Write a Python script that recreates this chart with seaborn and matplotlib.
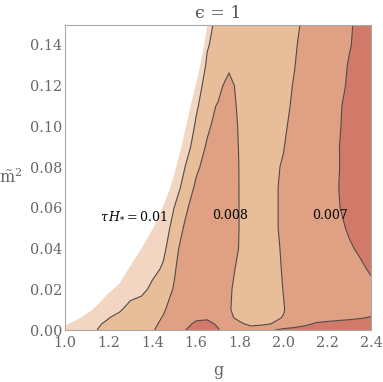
import numpy as np
import matplotlib
matplotlib.use("Agg")
import matplotlib.pyplot as plt
from matplotlib.ticker import MultipleLocator, FormatStrFormatter
import seaborn as sns

# grid
g_vals = [1.00, 1.05, 1.10, 1.15, 1.20, 1.25, 1.30, 1.35, 1.40, 1.45,
          1.50, 1.55, 1.60, 1.65, 1.70, 1.75, 1.80, 1.85, 1.90, 1.95,
          2.00, 2.05, 2.10, 2.15, 2.20, 2.25, 2.30, 2.35, 2.40]
m2_vals = [0.000, 0.003, 0.006, 0.01, 0.02, 0.03, 0.04, 0.05, 0.06,
           0.07, 0.08, 0.09, 0.10, 0.11, 0.12, 0.13, 0.14, 0.15]

# tau*H_* in units of 1e-3, one row per m2 value
tau_rows = [
    [10.9, 10.6, 10.3, 9.98, 9.75, 9.55, 9.4, 9.25, 9.05, 8.8, 8.4, 8.01, 7.8, 7.8, 7.97,
     8.2, 8.4, 8.6, 8.6, 8.05, 7.85, 7.8, 7.75, 7.7, 7.7, 7.7, 7.7, 7.7, 7.7],
    [11.1, 10.7, 10.4, 10.1, 9.82, 9.6, 9.45, 9.3, 9.1, 8.9, 8.5, 8.15, 7.9, 7.9, 8.05,
     8.4, 8.85, 9.2, 9.1, 8.98, 8.5, 8.3, 8.1, 7.93, 7.9, 7.88, 7.87, 7.86, 7.85],
    [11.8, 11.2, 10.7, 10.35, 10.03, 9.65, 9.5, 9.35, 9.15, 8.97, 8.6, 8.2, 8.1, 8.05, 8.2,
     8.8, 9.25, 9.3, 9.3, 9.1, 8.975, 8.6, 8.4, 8.25, 8.15, 8.1, 8.06, 8.02, 7.98],
    [12.45, 11.85, 11.25, 10.75, 10.5, 10.15, 9.52, 9.4, 9.25, 9.05, 8.8, 8.3, 8.15, 8.1, 8.3,
     8.9, 9.46, 9.5, 9.45, 9.3, 9.03, 8.73, 8.5, 8.35, 8.25, 8.2, 8.15, 8.12, 8.1],
    [13.5, 12.9, 12.3, 11.7, 11.1, 10.85, 10.6, 10.3, 9.75, 9.4, 8.93, 8.5, 8.35, 8.35, 8.5,
     8.85, 9.39, 9.4, 9.4, 9.25, 8.98, 8.7, 8.5, 8.4, 8.3, 8.25, 8.2, 8.15, 8.1],
    [14.35, 13.75, 13.15, 12.55, 11.95, 11.35, 10.9, 10.6, 10.3, 9.87, 9.1, 8.4, 8.3, 8.3, 8.35,
     8.7, 9.24, 9.3, 9.3, 9.15, 8.96, 8.7, 8.5, 8.4, 8.3, 8.2, 8.15, 8.07, 7.95],
    [15.1, 14.5, 13.9, 13.3, 12.7, 12.1, 11.5, 10.99, 10.6, 10.2, 9.37, 8.45, 8.3, 8.25, 8.3,
     8.45, 9.075, 9.2, 9.2, 9.1, 8.95, 8.7, 8.5, 8.4, 8.3, 8.2, 8.05, 7.94, 7.75],
    [15.82, 15.22, 14.62, 14.02, 13.42, 12.82, 12.22, 11.62, 11.02, 10.5, 9.64, 8.85, 8.4, 8.35, 8.35,
     8.4, 9.05, 9.2, 9.2, 9.05, 8.95, 8.7, 8.5, 8.35, 8.2, 8.1, 7.95, 7.75, 7.6],
    [16.7, 16.1, 15.5, 14.9, 14.3, 13.7, 13.1, 12.5, 11.9, 10.9, 9.98, 9.2, 8.45, 8.4, 8.4,
     8.4, 9.05, 9.25, 9.2, 9.05, 8.95, 8.7, 8.5, 8.35, 8.15, 8.03, 7.85, 7.7, 7.55],
    [17.05, 16.45, 15.85, 15.25, 14.65, 14.05, 13.45, 12.85, 12.25, 11.65, 10.6, 9.53, 8.85, 8.6, 8.45,
     8.45, 9.05, 9.3, 9.25, 9.05, 8.95, 8.7, 8.5, 8.35, 8.15, 8.01, 7.8, 7.65, 7.55],
    [17.2, 16.6, 16.0, 15.4, 14.8, 14.2, 13.6, 13.0, 12.4, 11.8, 11.2, 9.98, 9.15, 8.7, 8.5,
     8.5, 9.05, 9.3, 9.3, 9.1, 8.95, 8.7, 8.55, 8.4, 8.2, 8.03, 7.8, 7.65, 7.55],
    [17.9, 17.3, 16.7, 16.1, 15.5, 14.9, 14.3, 13.7, 13.1, 12.5, 11.9, 10.5, 9.5, 8.9, 8.6,
     8.55, 9.07, 9.35, 9.35, 9.2, 9.02, 8.75, 8.6, 8.45, 8.25, 8.02, 7.85, 7.7, 7.6],
    [17.68, 17.08, 16.48, 15.88, 15.28, 14.68, 14.08, 13.48, 12.88, 12.28, 11.68, 11.08, 9.8, 9.15, 8.7,
     8.6, 9.1, 9.4, 9.4, 9.3, 9.1, 8.8, 8.65, 8.5, 8.3, 8.05, 7.85, 7.7, 7.6],
    [18.35, 17.75, 17.15, 16.55, 15.95, 15.35, 14.75, 14.15, 13.55, 12.95, 12.35, 11.75, 10.2, 9.2, 8.95,
     8.7, 9.15, 9.4, 9.45, 9.35, 9.15, 8.9, 8.7, 8.5, 8.35, 8.05, 7.9, 7.75, 7.6],
    [18.75, 18.15, 17.55, 16.95, 16.35, 15.75, 15.15, 14.55, 13.95, 13.35, 12.75, 12.15, 10.9, 9.25, 9.2,
     8.75, 9.25, 9.5, 9.5, 9.4, 9.2, 8.95, 8.7, 8.55, 8.4, 8.2, 7.9, 7.75, 7.6],
    [18.9, 18.3, 17.7, 17.1, 16.5, 15.9, 15.3, 14.7, 14.1, 13.5, 12.9, 12.3, 11.7, 9.75, 9.5,
     9.15, 9.5, 9.6, 9.6, 9.5, 9.3, 9.02, 8.7, 8.55, 8.4, 8.25, 7.95, 7.75, 7.6],
    [20.4, 19.8, 19.2, 18.6, 18.0, 17.4, 16.8, 16.2, 15.6, 15.0, 14.4, 13.8, 13.2, 10.15, 9.4,
     9.5, 9.5, 9.5, 9.5, 9.4, 9.3, 9.1, 8.7, 8.55, 8.4, 8.25, 8.05, 7.8, 7.6],
    [18.8, 18.2, 17.6, 17.0, 16.4, 15.8, 15.2, 14.6, 14.0, 13.4, 12.8, 12.2, 11.6, 11.05, 9.1,
     9.3, 9.4, 9.4, 9.4, 9.4, 9.3, 9.1, 8.9, 8.7, 8.5, 8.3, 8.1, 7.8, 7.6],
]

fill_levels = [7.0, 8.0, 9.0, 10.0, 11.0, 25.0]
line_levels = [8.0, 9.0, 10.0]
fill_colors = ["#d27a69", "#e0a084", "#e8bd99", "#f2d6c2", "#ffffff"]

labels = ["$\\tau\\,H_{*}=0.01$", "0.008", "0.007"]
label_g = [1.316, 1.755, 2.212]
label_m2 = [0.056, 0.056, 0.056]

sns.set_style("ticks")
plt.rcParams["font.family"] = ["DejaVu Serif", "DejaVu Sans"]
plt.rcParams["mathtext.fontset"] = "dejavuserif"

fig = plt.figure(figsize=(3.83, 3.82), dpi=100)
fig.subplots_adjust(left=65 / 383, right=371 / 383,
                    bottom=1 - 330 / 382, top=1 - 24.5 / 382)
ax = fig.add_subplot(111)

G, M = np.meshgrid(np.array(g_vals), np.array(m2_vals))
Z = np.array(tau_rows)

pal = sns.color_palette(fill_colors)
ax.contourf(G, M, Z, levels=fill_levels, colors=pal, antialiased=True)
ax.contour(G, M, Z, levels=line_levels, colors="#4f4a48", linewidths=0.8)

for s, x, y in zip(labels, label_g, label_m2):
    ax.text(x, y, s, ha="center", va="center", fontsize=9, color="black")

ax.set_xlim(1.0, 2.4)
ax.set_ylim(0.0, 0.15)
ax.xaxis.set_major_locator(MultipleLocator(0.2))
ax.xaxis.set_minor_locator(MultipleLocator(0.05))
ax.yaxis.set_major_locator(MultipleLocator(0.02))
ax.yaxis.set_minor_locator(MultipleLocator(0.005))
ax.xaxis.set_major_formatter(FormatStrFormatter("%.1f"))
ax.yaxis.set_major_formatter(FormatStrFormatter("%.2f"))

ax.tick_params(which="both", direction="in", top=True, right=True,
               color="#9a9a9a", labelcolor="#666666", labelsize=10.4, width=0.7)
ax.tick_params(which="major", length=4)
ax.tick_params(which="minor", length=2.2)
ax.tick_params(axis="y", pad=2)
ax.tick_params(axis="x", pad=4)
for sp in ax.spines.values():
    sp.set_color("#a8a8a8")
    sp.set_linewidth(0.8)

ax.text(0.5, 1.021, "\u03f5 = 1", transform=ax.transAxes, ha="center",
        va="baseline", fontsize=12.5, color="#555555")
ax.text(0.5, -0.147, "g", transform=ax.transAxes, ha="center",
        va="baseline", fontsize=11.5, color="#666666")
ax.text(-0.176, 0.5, "$\\tilde{\\mathrm{m}}^2$", transform=ax.transAxes,
        ha="center", va="center", fontsize=11.5, color="#666666")

fig.savefig("out.png", dpi=100)
